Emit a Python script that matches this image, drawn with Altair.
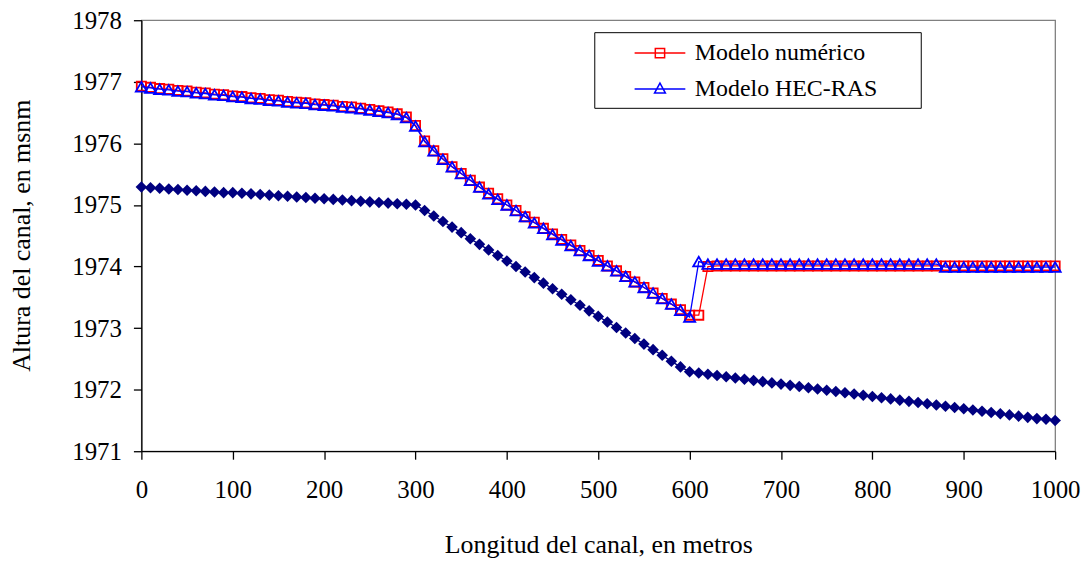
import altair as alt
import pandas as pd

# ---- data ----
distancia = list(range(0, 1001, 10))  # 0, 10, ..., 1000 m

modelo_numerico = [
    1976.93, 1976.91, 1976.89, 1976.88, 1976.86, 1976.85, 1976.83, 1976.82, 1976.80, 1976.79,
    1976.77, 1976.76, 1976.74, 1976.73, 1976.71, 1976.70, 1976.68, 1976.67, 1976.66, 1976.64,
    1976.63, 1976.62, 1976.60, 1976.59, 1976.57, 1976.55, 1976.53, 1976.51, 1976.48, 1976.43,
    1976.29,
    1976.04, 1975.88, 1975.75, 1975.62, 1975.51, 1975.40, 1975.29, 1975.19, 1975.10, 1975.00,
    1974.91, 1974.81, 1974.72, 1974.62, 1974.53, 1974.44, 1974.35, 1974.26, 1974.18, 1974.10,
    1974.01, 1973.93, 1973.84, 1973.75, 1973.66, 1973.57, 1973.48, 1973.39, 1973.30, 1973.21,
    1973.21, 1974.00, 1974.01, 1974.01, 1974.01, 1974.01, 1974.01, 1974.01, 1974.01, 1974.01,
    1974.01, 1974.01, 1974.01, 1974.01, 1974.01, 1974.01, 1974.01, 1974.01, 1974.01, 1974.01,
    1974.01, 1974.01, 1974.01, 1974.01, 1974.01, 1974.01, 1974.01, 1974.01, 1974.01, 1974.01,
    1974.01, 1974.01, 1974.01, 1974.01, 1974.01, 1974.01, 1974.01, 1974.01, 1974.01, 1974.01,
]

modelo_hecras = [
    1976.92, 1976.90, 1976.88, 1976.87, 1976.85, 1976.84, 1976.82, 1976.81, 1976.79, 1976.78,
    1976.76, 1976.75, 1976.73, 1976.72, 1976.70, 1976.69, 1976.67, 1976.66, 1976.65, 1976.63,
    1976.62, 1976.61, 1976.59, 1976.58, 1976.56, 1976.54, 1976.52, 1976.50, 1976.47, 1976.42,
    1976.28,
    1976.03, 1975.88, 1975.74, 1975.62, 1975.51, 1975.40, 1975.29, 1975.18, 1975.09, 1975.00,
    1974.91, 1974.81, 1974.71, 1974.62, 1974.52, 1974.43, 1974.34, 1974.26, 1974.18, 1974.09,
    1974.01, 1973.93, 1973.84, 1973.75, 1973.66, 1973.57, 1973.48, 1973.39, 1973.29, 1973.18,
    1974.08, 1974.04, 1974.04, 1974.04, 1974.04, 1974.04, 1974.04, 1974.04, 1974.04, 1974.04,
    1974.04, 1974.04, 1974.04, 1974.04, 1974.04, 1974.04, 1974.04, 1974.04, 1974.04, 1974.04,
    1974.04, 1974.04, 1974.04, 1974.04, 1974.04, 1974.04, 1974.04, 1973.99, 1973.99, 1973.99,
    1973.99, 1973.99, 1973.99, 1973.99, 1973.99, 1973.99, 1973.99, 1973.99, 1973.99, 1973.99,
]

fondo_canal = [
    1975.29, 1975.28, 1975.27, 1975.26, 1975.25, 1975.24, 1975.23, 1975.22, 1975.21, 1975.20,
    1975.20, 1975.19, 1975.18, 1975.17, 1975.16, 1975.15, 1975.14, 1975.13, 1975.12, 1975.11,
    1975.10, 1975.09, 1975.08, 1975.07, 1975.06, 1975.05, 1975.04, 1975.03, 1975.02, 1975.01,
    1975.00,
    1974.91, 1974.82, 1974.73, 1974.64, 1974.55, 1974.45, 1974.36, 1974.27, 1974.18, 1974.09,
    1974.00, 1973.91, 1973.82, 1973.73, 1973.64, 1973.55, 1973.46, 1973.37, 1973.28, 1973.19,
    1973.10, 1973.01, 1972.92, 1972.83, 1972.74, 1972.65, 1972.56, 1972.46, 1972.37, 1972.29,
    1972.27, 1972.25, 1972.23, 1972.21, 1972.19, 1972.17, 1972.15, 1972.13, 1972.11, 1972.09,
    1972.07, 1972.05, 1972.03, 1972.01, 1971.99, 1971.97, 1971.95, 1971.93, 1971.91, 1971.89,
    1971.87, 1971.85, 1971.83, 1971.81, 1971.79, 1971.77, 1971.75, 1971.73, 1971.71, 1971.69,
    1971.67, 1971.65, 1971.63, 1971.61, 1971.59, 1971.57, 1971.55, 1971.53, 1971.52, 1971.50,
]

series_names = ["Modelo numérico", "Modelo HEC-RAS"]
series_colors = ["#FF0000", "#0000FF"]
x_ticks = list(range(0, 1001, 100))
y_ticks = [1971, 1972, 1973, 1974, 1975, 1976, 1977, 1978]

FONT = "Liberation Serif"

num_df = pd.DataFrame({"x": distancia, "y": modelo_numerico, "serie": series_names[0]})
hec_df = pd.DataFrame({"x": distancia, "y": modelo_hecras, "serie": series_names[1]})
bed_df = pd.DataFrame({"x": distancia, "y": fondo_canal})

x_enc = alt.X("x:Q", scale=alt.Scale(domain=[0, 1000], nice=False),
              axis=alt.Axis(values=x_ticks, title="Longitud del canal, en metros", format="d",
                            titleY=102, titleBaseline="alphabetic", labelPadding=18,
                            labelFlush=False))
y_enc = alt.Y("y:Q", scale=alt.Scale(domain=[1971, 1978], nice=False, zero=False),
              axis=alt.Axis(values=y_ticks, title="Altura del canal, en msnm", format="d",
                            titleX=-112, titleY=216, titleAngle=-90, titleAlign="center",
                            titleBaseline="alphabetic", labelPadding=12, labelFlush=False))

sq_path = "M-1.96,0L1.96,0M-0.36,-0.36L0.36,-0.36L0.36,0.36L-0.36,0.36Z"
tri_path = "M-1.96,0L1.96,0M0,-0.45L0.42,0.32L-0.42,0.32Z"

# legend box: a white spacer title on the right side widens the frame like the reference
legend_def = alt.Legend(
    title=".", titleOrient="right", titleColor="white", titleFontSize=10, titlePadding=34,
    orient="none", legendX=455, legendY=12,
    strokeColor="black", fillColor="white", padding=7,
    symbolOffset=45, labelOffset=21, rowPadding=10,
    labelFont=FONT, labelFontSize=24, labelColor="black", labelLimit=500,
    symbolSize=676, symbolStrokeWidth=1.5,
)


def series_layers(df, color, shape, size):
    line = alt.Chart(df).mark_line(color=color, strokeWidth=1.3).encode(
        x=x_enc, y=y_enc, order="x:Q")
    pts = alt.Chart(df).mark_point(shape=shape, filled=False, color=color, size=size,
                                   strokeWidth=1.8, opacity=1).encode(x="x:Q", y="y:Q")
    return line, pts


bed_line = alt.Chart(bed_df).mark_line(color="#000080", strokeWidth=1.3).encode(x=x_enc, y=y_enc)
bed_pts = alt.Chart(bed_df).mark_point(shape="diamond", filled=True, color="#000080",
                                        size=135, opacity=1).encode(x="x:Q", y="y:Q")
num_line, num_pts = series_layers(num_df, "#FF0000", "square", 85)
hec_line, hec_pts = series_layers(hec_df, "#0000FF", "triangle-up", 125)

legend_layer = alt.Chart(pd.concat([num_df, hec_df])).transform_filter("false").mark_point(
    filled=False, size=676, strokeWidth=1.5, opacity=1
).encode(
    x="x:Q", y="y:Q",
    color=alt.Color("serie:N", scale=alt.Scale(domain=series_names, range=series_colors),
                    legend=legend_def),
    shape=alt.Shape("serie:N", scale=alt.Scale(domain=series_names, range=[sq_path, tri_path]),
                    legend=legend_def),
)

chart = alt.layer(
    bed_line, bed_pts, num_line, num_pts, hec_line, hec_pts, legend_layer
).properties(
    width=918, height=433,
    background="white",
    autosize=alt.AutoSizeParams(type="none"),
    padding={"left": 134, "top": 11, "right": 28, "bottom": 111},
).configure_view(
    stroke="#808080", strokeWidth=1.3
).configure_axis(
    labelFont=FONT, titleFont=FONT, labelFontSize=25, titleFontSize=26,
    labelColor="black", titleColor="black", titleFontWeight="normal",
    domainColor="black", tickColor="black", tickSize=8, domainWidth=1.3, tickWidth=1.3,
    grid=False,
)

chart.save("out.html", embed_options={"renderer": "svg", "actions": False})
